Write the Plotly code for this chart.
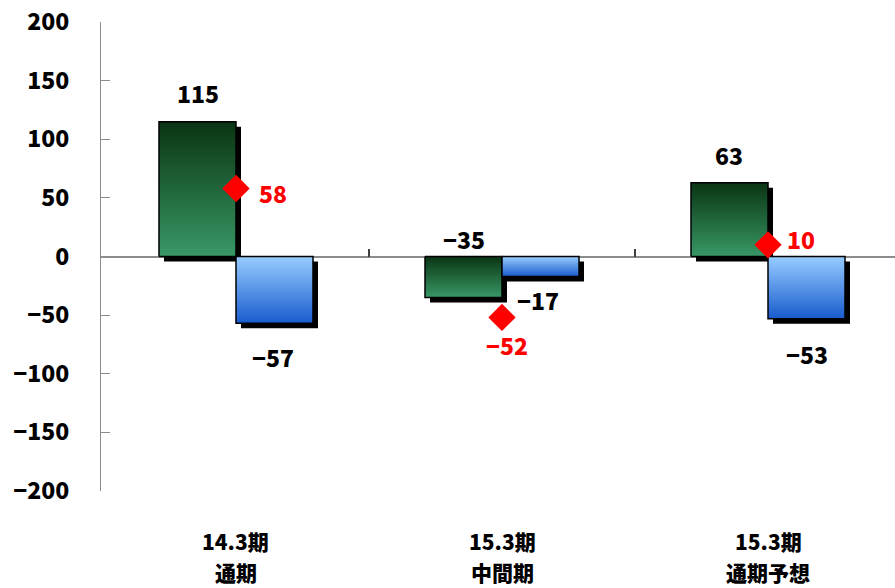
import plotly.graph_objects as go

# ---- data ----
periods = ["14.3期", "15.3期", "15.3期"]
period_kinds = ["通期", "中間期", "通期予想"]
green_values = [115, -35, 63]
blue_values = [-57, -17, -53]
diamond_values = [58, -52, 10]
y_ticks = [-200, -150, -100, -50, 0, 50, 100, 150, 200]

# ---- geometry / style ----
W, H = 895, 588
M_L, M_R, M_T, M_B = 101, 0, 22, 97
PX_PER_CAT = 266.0
X_LEFT = -0.5075
X_RIGHT = X_LEFT + (W - M_L - M_R) / PX_PER_CAT
Y_MIN, Y_MAX = -200, 200
PX_PER_UNIT = (H - M_T - M_B) / (Y_MAX - Y_MIN)

BAR_W = 77 / PX_PER_CAT
SHADOW_DX = 5 / PX_PER_CAT
SHADOW_DY = 5 / PX_PER_UNIT

FONT = "Noto Sans CJK JP"
WEIGHT = 900
GREEN_SCALE = [[0, "rgb(56,152,102)"], [1, "rgb(10,52,20)"]]
BLUE_SCALE = [[0, "rgb(24,92,206)"], [1, "rgb(152,204,255)"]]
AXIS_GRAY = "#8c8c8c"

fig = go.Figure()


def rect(x0, x1, y0, y1):
    return [x0, x1, x1, x0, x0], [y0, y0, y1, y1, y0]


def add_bar(x0, value, scale):
    # drop shadow, offset right and down
    sx, sy = rect(x0 + SHADOW_DX, x0 + BAR_W + SHADOW_DX, -SHADOW_DY, value - SHADOW_DY)
    fig.add_trace(go.Scatter(x=sx, y=sy, mode="lines", fill="toself",
                             fillcolor="black", line=dict(width=0),
                             hoverinfo="skip", showlegend=False))
    bx, by = rect(x0, x0 + BAR_W, 0, value)
    fig.add_trace(go.Scatter(x=bx, y=by, mode="lines", fill="toself",
                             fillgradient=dict(type="vertical", colorscale=scale),
                             line=dict(color="black", width=1.5),
                             hoverinfo="skip", showlegend=False))


for i, (g, b) in enumerate(zip(green_values, blue_values)):
    add_bar(i - BAR_W, g, GREEN_SCALE)
    add_bar(i, b, BLUE_SCALE)

fig.add_trace(go.Scatter(
    x=list(range(len(diamond_values))), y=diamond_values, mode="markers",
    marker=dict(symbol="diamond", size=21, color="#ff0000", line=dict(width=0)),
    hoverinfo="skip", showlegend=False))

# ---- value labels (pixel offsets from the mark they describe) ----
label_font = dict(family=FONT, size=23, color="black", weight=WEIGHT)
red_font = dict(family=FONT, size=23, color="#ff0000", weight=WEIGHT)

green_label_shift = [(1, 29, "value"), (0, 18, "zero"), (0, 28, "value")]
blue_label_shift = [(-1, -34, "value"), (-3, -24, "value"), (0, -35, "value")]
diamond_label_shift = [(37, -4), (5, -28), (33, 6)]

for i, v in enumerate(green_values):
    dx, dy, ref = green_label_shift[i]
    fig.add_annotation(x=i - BAR_W / 2, y=v if ref == "value" else 0,
                       text=f"{v}".replace("-", "\u2212"), showarrow=False,
                       xshift=dx, yshift=dy, font=label_font)
for i, v in enumerate(blue_values):
    dx, dy, ref = blue_label_shift[i]
    fig.add_annotation(x=i + BAR_W / 2, y=v, text=f"{v}".replace("-", "\u2212"),
                       showarrow=False, xshift=dx, yshift=dy, font=label_font)
for i, v in enumerate(diamond_values):
    dx, dy = diamond_label_shift[i]
    fig.add_annotation(x=i, y=v, text=f"{v}".replace("-", "\u2212"),
                       showarrow=False, xshift=dx, yshift=dy, font=red_font)

# ---- category labels (two rows under the plot) ----
cat_font = dict(family=FONT, size=21, color="black", weight=WEIGHT)
for i, (p, k) in enumerate(zip(periods, period_kinds)):
    fig.add_annotation(x=i, y=0, xref="x", yref="paper", text=p, showarrow=False,
                       yanchor="middle", yshift=-50, font=cat_font)
    fig.add_annotation(x=i, y=0, xref="x", yref="paper", text=k, showarrow=False,
                       yanchor="middle", yshift=-81, font=cat_font)

# invisible trace to keep the zero-line axis alive
fig.add_trace(go.Scatter(x=[0], y=[0], xaxis="x2", mode="markers",
                         marker=dict(opacity=0), hoverinfo="skip", showlegend=False))

fig.update_layout(
    width=W, height=H,
    margin=dict(l=M_L, r=M_R, t=M_T, b=M_B, pad=0),
    paper_bgcolor="white", plot_bgcolor="white",
    showlegend=False,
    xaxis=dict(range=[X_LEFT, X_RIGHT], showgrid=False, zeroline=False,
               showline=False, ticks="", showticklabels=False, fixedrange=True),
    xaxis2=dict(range=[X_LEFT, X_RIGHT], overlaying="x", anchor="free", position=0.5,
                showgrid=False, zeroline=False, showline=False,
                tickmode="array", tickvals=[0.5, 1.5], ticks="inside", ticklen=8,
                tickwidth=1.5, tickcolor="#404040", showticklabels=False),
    yaxis=dict(range=[Y_MIN, Y_MAX], tickmode="array", tickvals=y_ticks,
               showgrid=False, zeroline=True, zerolinecolor=AXIS_GRAY, zerolinewidth=1.5,
               showline=True, linecolor=AXIS_GRAY, linewidth=1.2,
               ticks="inside", ticklen=9, tickwidth=1.2, tickcolor=AXIS_GRAY,
               ticklabelstandoff=26,
               tickfont=dict(family=FONT, size=23, color="black", weight=WEIGHT)),
)

fig.write_html("out.html")
